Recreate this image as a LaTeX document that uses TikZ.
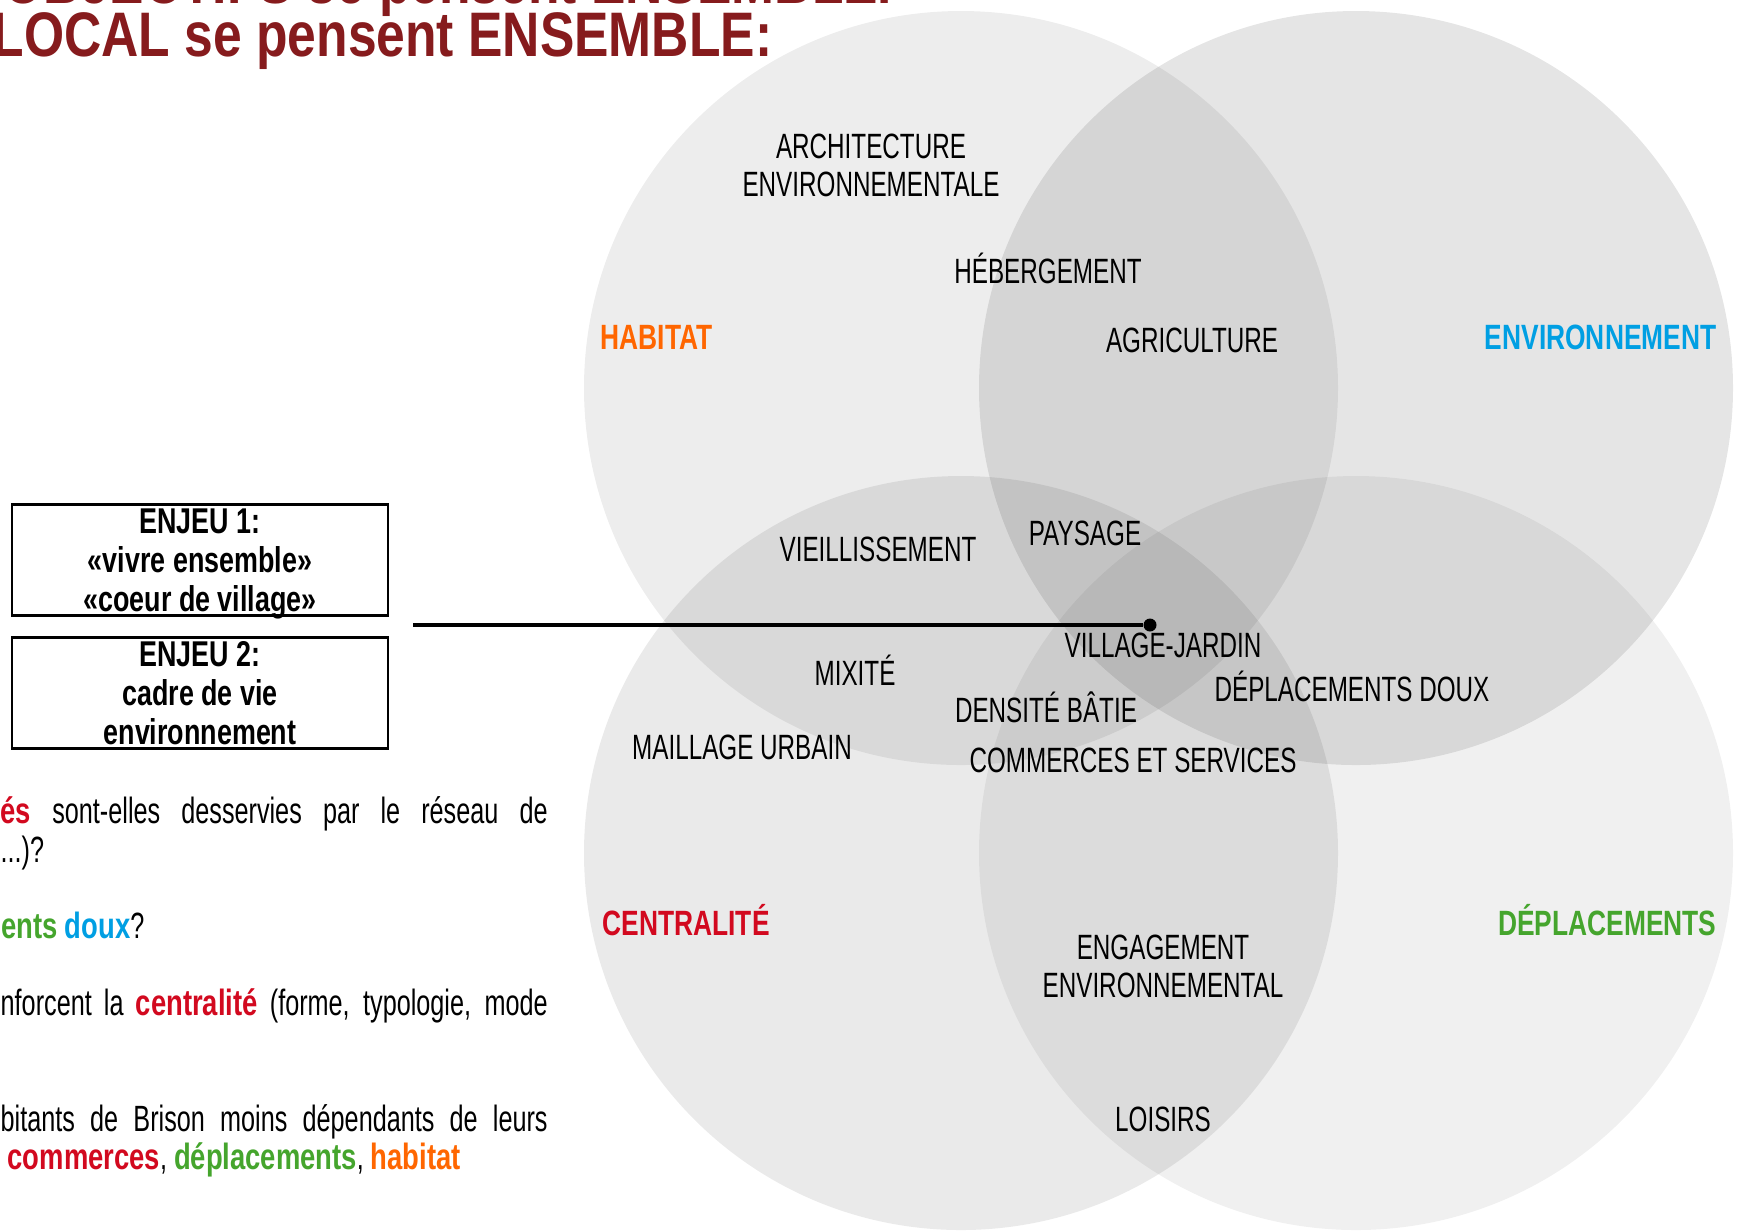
\documentclass[tikz,border=0pt]{standalone}
\usepackage{fontspec}
\setmainfont[FakeStretch=0.69]{Liberation Sans}
\newfontfamily\labelfont[FakeStretch=0.75]{Liberation Sans}
\newfontfamily\titlefont[FakeStretch=0.82]{Liberation Sans}

\definecolor{titlered}{HTML}{861B1D}
\definecolor{habitat}{HTML}{FF6600}
\definecolor{environnement}{HTML}{009FE3}
\definecolor{centralite}{HTML}{D2091F}
\definecolor{deplacements}{HTML}{45A52D}

\newcommand{\gras}[2]{{\labelfont\bfseries\color{#1}#2}}
% derniere ligne sans profondeur
\newcommand{\sansjambe}[1]{\raisebox{0pt}[\height][0pt]{#1}}

\tikzset{
  theme/.style={font=\fontsize{10}{12}\labelfont\bfseries, inner sep=0pt},
  mot/.style={font=\fontsize{10}{10.8}\selectfont, inner sep=0pt, align=center},
  enjeu/.style={draw, line width=0.7pt, minimum width=37.6mm, minimum height=11.1mm,
    inner sep=0pt, align=center, font=\fontsize{10.2}{11}\labelfont\bfseries},
  texte/.style={font=\fontsize{10.4}{11}\selectfont, inner sep=0pt, anchor=base west},
  titre/.style={font=\fontsize{17.9}{20}\titlefont\bfseries, text=titlered,
    inner sep=0pt, anchor=base east},
}

\begin{document}
\begin{tikzpicture}[x=0.1mm, y=-0.1mm]
        \useasboundingbox (0,0) rectangle (1739,1230);

        % les quatre cercles
        \fill[black, fill opacity=0.07] (961,388) circle (377);
        \fill[black, fill opacity=0.10] (1356,388) circle (377);
        \fill[black, fill opacity=0.082] (961,853) circle (377);
        \fill[black, fill opacity=0.06] (1356,853) circle (377);

        % titre
        \node[titre] (titre1) at (893,3) {OBJECTIFS se pensent ENSEMBLE.};
        \node[titre] (titre2) at (773,56) {LOCAL se pensent ENSEMBLE:};

        % themes
        \node[theme, text=habitat, anchor=base west] (habitat) at (600,349) {HABITAT};
        \node[theme, text=environnement, anchor=base east] (environnement) at (1717,349) {ENVIRONNEMENT};
        \node[theme, text=centralite, anchor=base west] (centralite) at (602,935) {CENTRALITÉ};
        \node[theme, text=deplacements, anchor=base east] (deplacements) at (1717,935) {DÉPLACEMENTS};

        % mots
        \node[mot] (architecture) at (871,165) {ARCHITECTURE\\ENVIRONNEMENTALE};
        \node[mot, anchor=base] (hebergement) at (1048,283) {HÉBERGEMENT};
        \node[mot, anchor=base] (agriculture) at (1192,352) {AGRICULTURE};
        \node[mot, anchor=base] (vieillissement) at (878,561) {VIEILLISSEMENT};
        \node[mot, anchor=base] (paysage) at (1085,545) {PAYSAGE};
        \node[mot, anchor=base] (villagejardin) at (1163,657) {VILLAGE-JARDIN};
        \node[mot, anchor=base] (mixite) at (855,685) {MIXITÉ};
        \node[mot, anchor=base] (densite) at (1046,722) {DENSITÉ BÂTIE};
        \node[mot, anchor=base] (doux) at (1352,701) {DÉPLACEMENTS DOUX};
        \node[mot, anchor=base] (maillage) at (742,759) {MAILLAGE URBAIN};
        \node[mot, anchor=base] (commerces) at (1133,772) {COMMERCES ET SERVICES};
        \node[mot] (engagement) at (1163,966) {ENGAGEMENT\\ENVIRONNEMENTAL};
        \node[mot, anchor=base] (loisirs) at (1163,1131) {LOISIRS};

        % enjeux
        \node[enjeu] (enjeu1) at (200,560) {ENJEU 1:\\«vivre ensemble»\\\sansjambe{«coeur de village»}};
        \node[enjeu] (enjeu2) at (200,693) {ENJEU 2:\\cadre de vie\\environnement};
        \coordinate (depart) at (413,625);
        \node[circle, fill, inner sep=0pt, minimum size=1.3mm] (village) at (1150,625) {};
        \draw[line width=1.2pt] (depart) -- (village);

        % questions
        \node[texte] (ligne1) at (0,823) {\makebox[54.7mm][s]{\gras{centralite}{és} sont-elles desservies par le réseau de}};
        \node[texte] (ligne2) at (0,862) {...)?};
        \node[texte, anchor=base east] (ligne3) at (145,938) {\gras{deplacements}{ments} \gras{environnement}{doux}?};
        \node[texte] (ligne4) at (0,1015) {\makebox[54.7mm][s]{nforcent la \gras{centralite}{centralité} (forme, typologie, mode}};
        \node[texte] (ligne5) at (0,1131) {\makebox[54.7mm][s]{bitants de Brison moins dépendants de leurs}};
        \node[texte] (ligne6) at (7,1169) {\gras{centralite}{commerces}, \gras{deplacements}{déplacements}, \gras{habitat}{habitat}};
        \end{tikzpicture}
\end{document}
